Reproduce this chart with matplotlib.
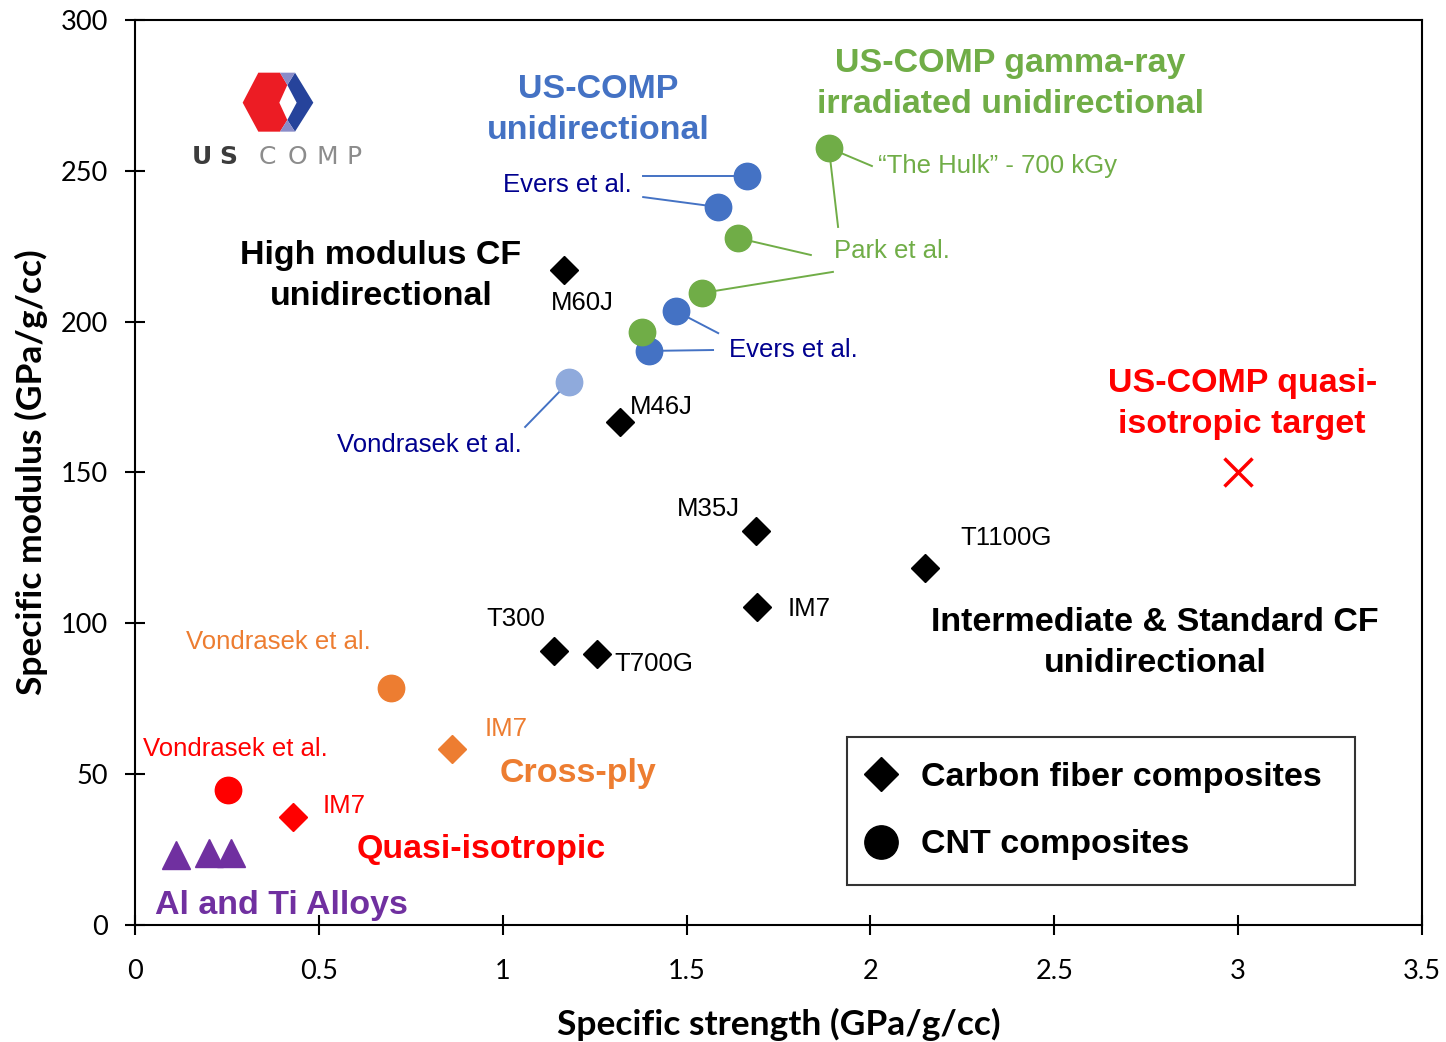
import matplotlib
matplotlib.use("Agg")
import matplotlib.pyplot as plt
from matplotlib.lines import Line2D
from matplotlib.patches import Polygon

# ---------------- data ----------------
cf_x = [1.167, 1.319, 1.689, 1.692, 2.148, 1.140, 1.256]
cf_y = [217.1, 166.7, 130.6, 105.4, 118.3, 90.8, 89.8]
cf_labels = ["M60J", "M46J", "M35J", "IM7", "T1100G", "T300", "T700G"]

uscomp_x = [1.664, 1.586, 1.471, 1.398]
uscomp_y = [248.3, 238.0, 203.5, 190.3]

vond_uni_x = [1.180]
vond_uni_y = [180.0]

gamma_x = [1.887, 1.640, 1.542, 1.379]
gamma_y = [257.6, 227.7, 209.5, 196.6]

cross_cnt_x = [0.696]
cross_cnt_y = [78.6]
cross_cf_x = [0.862]
cross_cf_y = [58.3]

qi_cnt_x = [0.253]
qi_cnt_y = [44.8]
qi_cf_x = [0.430]
qi_cf_y = [35.8]

alloy_x = [0.112, 0.201, 0.261]
alloy_y = [23.2, 23.9, 23.9]

target_x = [3.0]
target_y = [150.0]

x_ticks = [0, 0.5, 1, 1.5, 2, 2.5, 3, 3.5]
x_ticklabels = ["0", "0.5", "1", "1.5", "2", "2.5", "3", "3.5"]
y_ticks = [0, 50, 100, 150, 200, 250, 300]

# ---------------- style ----------------
BLUE = "#4472C4"
LBLUE = "#8FAADC"
GREEN = "#70AD47"
ORANGE = "#ED7D31"
RED = "#FF0000"
PURPLE = "#7030A0"
NAVY = "#00008F"

ARIAL = ["Liberation Sans", "DejaVu Sans"]
CAL = ["Lato", "DejaVu Sans"]

fig = plt.figure(figsize=(14.46, 10.42), dpi=100)
ax = fig.add_axes([135 / 1446, 1 - 925 / 1042, (1422 - 135) / 1446, (925 - 20) / 1042])
ax.set_xlim(0, 3.5)
ax.set_ylim(0, 300)

for s in ax.spines.values():
    s.set_linewidth(1.5)
    s.set_color("black")

ax.set_xticks(x_ticks)
ax.set_xticklabels(x_ticklabels)
ax.set_yticks(y_ticks)
ax.tick_params(axis="both", direction="inout", length=15, width=1.5,
               labelsize=19.5, top=False, right=False)
ax.tick_params(axis="x", pad=17)
ax.tick_params(axis="y", pad=12)
for lab in ax.get_xticklabels() + ax.get_yticklabels():
    lab.set_family(CAL)

ax.set_xlabel("Specific strength (GPa/g/cc)", fontsize=25.5, fontweight="bold",
              family=CAL, labelpad=17)
ax.set_ylabel("Specific modulus (GPa/g/cc)", fontsize=25.5, fontweight="bold",
              family=CAL, labelpad=9)

# ---------------- leader lines ----------------
lw = 1.4
leaders_blue = [((1.382, 248.3), (uscomp_x[0], uscomp_y[0])),
                ((1.382, 241.3), (uscomp_x[1], uscomp_y[1])),
                ((1.586, 196.2), (uscomp_x[2], uscomp_y[2])),
                ((1.572, 190.6), (uscomp_x[3], uscomp_y[3])),
                ((1.061, 165.1), (vond_uni_x[0], vond_uni_y[0]))]
for (a, b) in leaders_blue:
    ax.plot([a[0], b[0]], [a[1], b[1]], color=BLUE, lw=lw, zorder=2)
leaders_green = [((2.004, 251.6), (gamma_x[0], gamma_y[0])),
                 ((1.912, 231.4), (gamma_x[0], gamma_y[0])),
                 ((1.838, 222.1), (gamma_x[1], gamma_y[1])),
                 ((1.898, 216.5), (gamma_x[2], gamma_y[2]))]
for (a, b) in leaders_green:
    ax.plot([a[0], b[0]], [a[1], b[1]], color=GREEN, lw=lw, zorder=2)

# ---------------- markers ----------------
ms_o = 19
ms_d = 14
ax.plot(cf_x, cf_y, "D", color="black", ms=ms_d, ls="none", zorder=3)
ax.plot(uscomp_x, uscomp_y, "o", color=BLUE, ms=ms_o, ls="none", zorder=3)
ax.plot(vond_uni_x, vond_uni_y, "o", color=LBLUE, ms=ms_o, ls="none", zorder=3)
ax.plot(gamma_x, gamma_y, "o", color=GREEN, ms=ms_o, ls="none", zorder=4)
ax.plot(cross_cnt_x, cross_cnt_y, "o", color=ORANGE, ms=ms_o, ls="none", zorder=3)
ax.plot(cross_cf_x, cross_cf_y, "D", color=ORANGE, ms=ms_d, ls="none", zorder=3)
ax.plot(qi_cnt_x, qi_cnt_y, "o", color=RED, ms=ms_o, ls="none", zorder=3)
ax.plot(qi_cf_x, qi_cf_y, "D", color=RED, ms=ms_d, ls="none", zorder=3)
ax.plot(alloy_x, alloy_y, "^", color=PURPLE, ms=20, ls="none", zorder=3)
ax.plot(target_x, target_y, "x", color=RED, ms=20, mew=2.5, ls="none", zorder=3)

# ---------------- small labels ----------------
fs_s = 18.5
cf_lab_pos = [(1.131, 206.2), (1.346, 171.7), (1.474, 137.9), (1.776, 104.7),
              (2.244, 128.3), (0.955, 101.4), (1.303, 86.5)]
for lab, (x, y) in zip(cf_labels, cf_lab_pos):
    ax.text(x, y, lab, fontsize=fs_s, family=ARIAL, color="black", ha="left", va="center")

small = [
    (1.001, 245.3, "Evers et al.", NAVY),
    (1.615, 190.6, "Evers et al.", NAVY),
    (0.549, 159.1, "Vondrasek et al.", NAVY),
    (2.021, 251.6, "\u201cThe Hulk\u201d - 700 kGy", GREEN),
    (1.901, 223.4, "Park et al.", GREEN),
    (0.139, 93.8, "Vondrasek et al.", ORANGE),
    (0.952, 65.0, "IM7", ORANGE),
    (0.022, 58.3, "Vondrasek et al.", RED),
    (0.511, 39.4, "IM7", RED),
]
for x, y, t, c in small:
    ax.text(x, y, t, fontsize=fs_s, family=ARIAL, color=c, ha="left", va="center")

# ---------------- big bold labels ----------------
fs_b = 24.5
big = [
    (1.259, 270.2, "US-COMP\nunidirectional", BLUE),
    (2.380, 278.8, "US-COMP gamma-ray\nirradiated unidirectional", GREEN),
    (0.669, 215.1, "High modulus CF\nunidirectional", "black"),
    (3.011, 172.7, "US-COMP quasi-\nisotropic target", RED),
    (2.774, 93.5, "Intermediate & Standard CF\nunidirectional", "black"),
    (1.205, 50.1, "Cross-ply", ORANGE),
    (0.941, 24.9, "Quasi-isotropic", RED),
    (0.397, 6.6, "Al and Ti Alloys", PURPLE),
]
for x, y, t, c in big:
    ax.text(x, y, t, fontsize=fs_b, family=ARIAL, fontweight="bold", color=c,
            ha="center", va="center", linespacing=1.42, multialignment="center")

# ---------------- legend ----------------
handles = [Line2D([], [], marker="D", color="black", ls="none", ms=17),
           Line2D([], [], marker="o", color="black", ls="none", ms=24)]
leg = ax.legend(handles, ["Carbon fiber composites", "CNT composites"],
                loc="lower left", bbox_to_anchor=(0.553, 0.0442, 0.395, 0.1635),
                mode="expand", frameon=True, fancybox=False, edgecolor="black",
                prop={"family": ARIAL, "weight": "bold", "size": 24.5},
                borderpad=0.72, labelspacing=1.08, handletextpad=0.85,
                handlelength=0.6, borderaxespad=0)
leg.get_frame().set_linewidth(1.5)
leg.set_zorder(5)

# ---------------- logo ----------------
lax = fig.add_axes([0, 0, 1, 1], zorder=10)
lax.set_xlim(0, 1446)
lax.set_ylim(1042, 0)
lax.axis("off")
lax.patch.set_alpha(0)

def z(px, py):
    return (180 + px / 3.0, 60 + py / 3.0)

red_poly = [z(235, 38), z(300, 38), z(322, 75), z(298, 128), z(322, 180),
            z(300, 215), z(235, 215), z(188, 128)]
blue_poly = [z(345, 38), z(400, 128), z(345, 215), z(322, 180), z(350, 128), z(322, 75)]
lav_top = [z(300, 38), z(345, 38), z(322, 75)]
lav_bot = [z(300, 215), z(345, 215), z(322, 180)]
lax.add_patch(Polygon(red_poly, closed=True, color="#EC1C24", lw=0))
lax.add_patch(Polygon(blue_poly, closed=True, color="#26439B", lw=0))
lax.add_patch(Polygon(lav_top, closed=True, color="#8A8CC8", lw=0))
lax.add_patch(Polygon(lav_bot, closed=True, color="#8A8CC8", lw=0))

logo_letters = [("U", 202, "#3C3C3C", "bold"), ("S", 228, "#3C3C3C", "bold"),
                ("C", 267, "#8C8C8C", "normal"), ("O", 297, "#8C8C8C", "normal"),
                ("M", 327, "#8C8C8C", "normal"), ("P", 354, "#8C8C8C", "normal")]
for ch, xp, col, wt in logo_letters:
    lax.text(xp, 157, ch, fontsize=18, color=col, fontweight=wt, family=["DejaVu Sans"],
             ha="center", va="center")

fig.savefig("out.png", dpi=100)
